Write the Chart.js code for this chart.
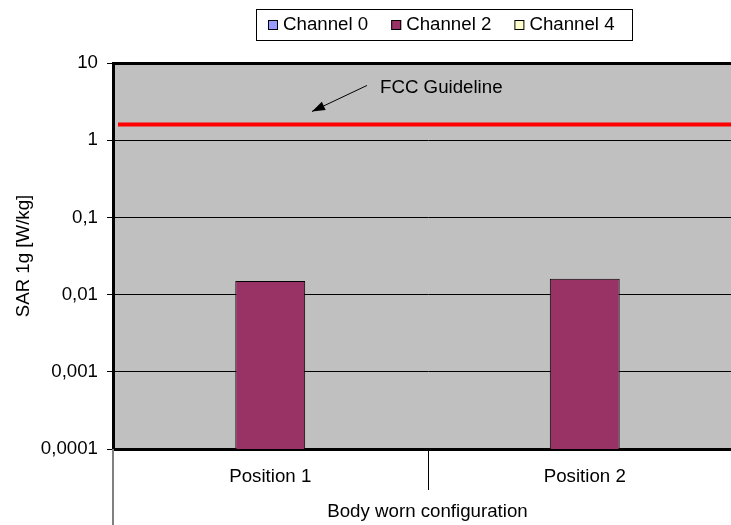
<!DOCTYPE html>
<html>
<head>
<meta charset="utf-8">
<script src="https://cdn.jsdelivr.net/npm/chart.js@4.4.0/dist/chart.umd.min.js"></script>
<style>
  html, body { margin: 0; padding: 0; background: #fff; overflow: hidden; }
  #wrap { width: 742px; height: 525px; }
</style>
</head>
<body>
<div id="wrap"><canvas id="sarChart" width="742" height="525"></canvas></div>
<script>
// data
const positions = ['Position 1', 'Position 2'];
const channelNames = ['Channel 0', 'Channel 2', 'Channel 4'];
const channel0 = [null, null];
const channel2 = [0.015, 0.016];
const channel4 = [null, null];
const yTickValues = [0.0001, 0.001, 0.01, 0.1, 1, 10];
const fccLimit = 1.6;
const fccLabel = 'FCC Guideline';
const groupLabel = 'Body worn configuration';
const yLabel = 'SAR 1g [W/kg]';

const FONT = "'Liberation Sans', Arial, sans-serif";
const FS = 18.7;
Chart.defaults.font.family = FONT;
Chart.defaults.font.size = FS;
Chart.defaults.color = '#000';

// gray plot area
const plotBackground = {
  id: 'plotBackground',
  beforeDraw(chart) {
    const { ctx, chartArea: a } = chart;
    ctx.save();
    ctx.fillStyle = '#C0C0C0';
    ctx.fillRect(a.left, a.top, a.right - a.left, a.bottom - a.top);
    ctx.restore();
  }
};

// frame, FCC line, arrow, group lines, boxed legend
const extras = {
  id: 'extras',
  afterDraw(chart) {
    const { ctx, chartArea: a, scales } = chart;
    ctx.save();

    // top border
    ctx.strokeStyle = '#000';
    ctx.lineWidth = 3;
    ctx.beginPath();
    ctx.moveTo(a.left, a.top + 0.5);
    ctx.lineTo(a.right, a.top + 0.5);
    ctx.stroke();

    // FCC limit line
    const yF = scales.y.getPixelForValue(fccLimit);
    ctx.strokeStyle = '#FF0000';
    ctx.lineWidth = 4;
    ctx.beginPath();
    ctx.moveTo(a.left + 5, yF);
    ctx.lineTo(a.right, yF);
    ctx.stroke();

    // arrow + label
    const tipX = a.left + 199, tipY = yF - 13;
    const tailX = a.left + 254, tailY = yF - 39;
    ctx.strokeStyle = '#000';
    ctx.lineWidth = 1;
    ctx.beginPath();
    ctx.moveTo(tailX, tailY);
    ctx.lineTo(tipX, tipY);
    ctx.stroke();
    const ang = Math.atan2(tipY - tailY, tipX - tailX);
    ctx.fillStyle = '#000';
    ctx.beginPath();
    ctx.moveTo(tipX, tipY);
    ctx.lineTo(tipX - 13 * Math.cos(ang) + 4.5 * Math.sin(ang), tipY - 13 * Math.sin(ang) - 4.5 * Math.cos(ang));
    ctx.lineTo(tipX - 13 * Math.cos(ang) - 4.5 * Math.sin(ang), tipY - 13 * Math.sin(ang) + 4.5 * Math.cos(ang));
    ctx.closePath();
    ctx.fill();
    ctx.font = FS + 'px ' + FONT;
    ctx.textBaseline = 'middle';
    ctx.textAlign = 'left';
    ctx.fillText(fccLabel, a.left + 267, yF - 37);

    // category group lines under the x axis
    const xs = scales.x;
    ctx.strokeStyle = '#808080';
    ctx.lineWidth = 2;
    ctx.beginPath();
    ctx.moveTo(a.left, a.bottom);
    ctx.lineTo(a.left, chart.height);
    ctx.stroke();
    ctx.strokeStyle = '#000';
    ctx.lineWidth = 1;
    for (let i = 1; i < positions.length; i++) {
      const x = Math.round((xs.getPixelForValue(i - 1) + xs.getPixelForValue(i)) / 2) + 0.5;
      ctx.beginPath();
      ctx.moveTo(x, a.bottom);
      ctx.lineTo(x, a.bottom + 41);
      ctx.stroke();
    }

    // legend with frame
    ctx.strokeStyle = '#000';
    ctx.lineWidth = 1;
    ctx.strokeRect(256.5, 9.5, 376, 31);
    let lx = 268;
    const ly = 25;
    chart.data.datasets.forEach(ds => {
      ctx.fillStyle = ds.backgroundColor;
      ctx.fillRect(lx, ly - 5, 10, 10);
      ctx.strokeRect(lx + 0.5, ly - 4.5, 9, 9);
      ctx.fillStyle = '#000';
      ctx.fillText(ds.label, lx + 15, ly);
      lx += 15 + ctx.measureText(ds.label).width + 23;
    });

    ctx.restore();
  }
};

new Chart(document.getElementById('sarChart'), {
  type: 'bar',
  data: {
    labels: positions,
    datasets: [
      { label: channelNames[0], data: channel0, backgroundColor: '#9999FF' },
      { label: channelNames[1], data: channel2, backgroundColor: '#993366' },
      { label: channelNames[2], data: channel4, backgroundColor: '#FFFFCC' }
    ].map(d => Object.assign(d, {
      borderColor: '#000', borderWidth: 1, categoryPercentage: 2 / 3, barPercentage: 1
    }))
  },
  options: {
    responsive: false,
    animation: false,
    devicePixelRatio: 1,
    layout: { padding: { top: 63, left: 0, right: 0, bottom: 0 } },
    plugins: { legend: { display: false }, tooltip: { enabled: false } },
    scales: {
      x: {
        offset: true,
        grid: { drawOnChartArea: false, drawTicks: false },
        border: { display: true, color: '#000', width: 3 },
        ticks: { padding: 17, maxRotation: 0, color: '#000' },
        title: { display: true, text: groupLabel, color: '#000', padding: { top: 0, bottom: 2 } },
        afterFit: s => { s.height = 76; }
      },
      y: {
        type: 'logarithmic',
        min: 0.0001,
        max: 10,
        afterBuildTicks: s => { s.ticks = yTickValues.map(v => ({ value: v })); },
        grid: { color: '#000', lineWidth: 1, tickLength: 6, tickColor: '#000' },
        border: { color: '#000', width: 3 },
        ticks: { padding: 9, color: '#000', callback: v => String(v).replace('.', ',') },
        title: { display: true, text: yLabel, color: '#000', padding: { top: 13, bottom: 0 } },
        afterFit: s => { s.width = 113; }
      }
    }
  },
  plugins: [plotBackground, extras]
});
</script>
</body>
</html>
